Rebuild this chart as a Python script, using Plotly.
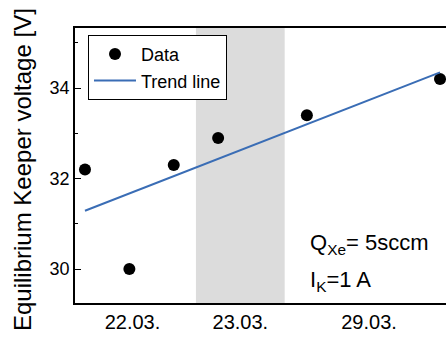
import plotly.graph_objects as go

# Measurement days (run index) and equilibrium keeper voltage
run_index = [0, 1, 2, 3, 5, 8]
keeper_voltage = [32.2, 30.0, 32.3, 32.9, 33.4, 34.2]

# Linear trend line end points
trend_x = [0, 8]
trend_y = [31.29, 34.35]

# Date group labels along the x axis
date_positions = [1.07, 3.5, 6.4]
date_labels = ["22.03.", "23.03.", "29.03."]

# Shaded measurement day
shade_start, shade_end = 2.5, 4.5

FONT = "Arial, Liberation Sans, sans-serif"
BLUE = "#3a6db5"

fig = go.Figure()

fig.add_trace(go.Scatter(
    x=run_index, y=keeper_voltage, mode="markers", name="Data",
    marker=dict(color="black", size=12),
))
fig.add_trace(go.Scatter(
    x=trend_x, y=trend_y, mode="lines", name="Trend line",
    line=dict(color=BLUE, width=2),
))

fig.add_shape(type="rect", xref="x", yref="paper",
              x0=shade_start, x1=shade_end, y0=0, y1=1,
              fillcolor="#dcdcdc", line=dict(width=0), layer="below")

fig.update_layout(
    width=446, height=340,
    margin=dict(l=75, r=0, t=28, b=37),
    paper_bgcolor="white", plot_bgcolor="white",
    font=dict(family=FONT, color="black", size=18),
    showlegend=True,
    legend=dict(x=0.035, y=0.975, xanchor="left", yanchor="top",
                bgcolor="white", bordercolor="black", borderwidth=1,
                font=dict(size=18), tracegroupgap=0, itemwidth=42),
    xaxis=dict(range=[-0.225, 8.135], showgrid=False, zeroline=False,
               showline=True, linecolor="black", linewidth=1.5, mirror=True,
               ticks="", tickvals=date_positions, ticktext=date_labels,
               tickfont=dict(size=20)),
    yaxis=dict(range=[29.25, 35.33], showgrid=False, zeroline=False,
               showline=True, linecolor="black", linewidth=1.5,
               ticks="inside", ticklen=6, tickwidth=1.2, tickcolor="black",
               tickvals=[30, 32, 34], tickfont=dict(size=18),
               minor=dict(ticks="inside", ticklen=3, tickwidth=1.2,
                          tickcolor="black", tickvals=[31, 33, 35])),
)

fig.add_annotation(text="Equilibrium Keeper voltage [V]", textangle=-90,
                   xref="paper", yref="paper", x=-0.143, y=0.487,
                   xanchor="center", yanchor="middle", showarrow=False,
                   font=dict(size=24))
fig.add_annotation(text="Q<sub>Xe</sub>= 5sccm", xref="paper", yref="paper",
                   x=0.628, y=0.215, xanchor="left", yanchor="middle",
                   showarrow=False, font=dict(size=22))
fig.add_annotation(text="I<sub>K</sub>=1 A", xref="paper", yref="paper",
                   x=0.628, y=0.08, xanchor="left", yanchor="middle",
                   showarrow=False, font=dict(size=22))

fig.write_html("out.html")
